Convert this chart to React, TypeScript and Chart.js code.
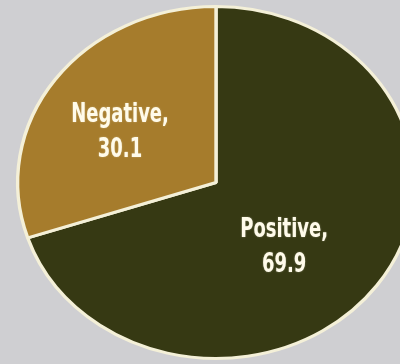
import React, { useEffect, useRef } from "react";
import { Chart, registerables } from "chart.js";

Chart.register(...registerables);

const categories = ["Positive", "Negative"];
const values = [69.9, 30.1];
const sliceColors = ["#363913", "#a67c2c"];

const STRETCH_X = 1.127;
const TEXT_SQUEEZE = 0.74;
// label placement relative to each slice: radial fraction and angular nudge (degrees)
const labelRadial = [0.504, 0.56];
const labelNudge = [11.2, -5.6];

const ellipsePlugin = {
  id: "ellipseAndLabels",
  beforeDatasetsDraw(chart: any) {
    const arc = chart.getDatasetMeta(0).data[0];
    if (!arc) return;
    const ctx = chart.ctx;
    ctx.save();
    ctx.translate(arc.x, 0);
    ctx.scale(STRETCH_X, 1);
    ctx.translate(-arc.x, 0);
  },
  afterDatasetsDraw(chart: any) {
    const ctx = chart.ctx;
    ctx.restore();
    const meta = chart.getDatasetMeta(0);
    const labels = chart.data.labels as string[];
    const data = chart.data.datasets[0].data as number[];
    meta.data.forEach((arc: any, i: number) => {
      const { x, y, startAngle, endAngle, outerRadius } = arc.getProps(
        ["x", "y", "startAngle", "endAngle", "outerRadius"],
        true
      );
      const mid = (startAngle + endAngle) / 2 + (labelNudge[i] * Math.PI) / 180;
      const r = outerRadius * labelRadial[i];
      const px = x + Math.cos(mid) * r * STRETCH_X;
      const py = y + Math.sin(mid) * r;
      ctx.save();
      ctx.translate(px, py);
      ctx.scale(TEXT_SQUEEZE, 1);
      ctx.font = "bold 27px 'DejaVu Sans Condensed', 'DejaVu Sans', sans-serif";
      ctx.fillStyle = "#fffbea";
      ctx.textAlign = "center";
      ctx.textBaseline = "middle";
      ctx.shadowColor = "rgba(255,255,240,0.35)";
      ctx.shadowBlur = 2;
      ctx.fillText(labels[i] + ",", 0, -17.5);
      ctx.fillText(data[i].toFixed(1), 0, 17.5);
      ctx.restore();
    });
  },
};

export default function App() {
  const canvasRef = useRef<HTMLCanvasElement | null>(null);

  useEffect(() => {
    document.body.style.margin = "0";
    document.body.style.background = "#cfcfd2";
    const canvas = canvasRef.current;
    if (!canvas) return;
    const chart = new Chart(canvas, {
      type: "pie",
      data: {
        labels: categories,
        datasets: [
          {
            data: values,
            backgroundColor: sliceColors,
            borderColor: "#f4f0d8",
            borderWidth: 3,
          },
        ],
      },
      options: {
        animation: false,
        responsive: true,
        maintainAspectRatio: false,
        events: [],
        radius: 176,
        layout: { padding: { top: 1, bottom: 0, left: 32, right: 0 } },
        plugins: {
          legend: { display: false },
          tooltip: { enabled: false },
        },
      },
      plugins: [ellipsePlugin],
    });
    return () => chart.destroy();
  }, []);

  return (
    <div style={{ width: 400, height: 364, background: "#cfcfd2", position: "relative", overflow: "hidden" }}>
      <canvas ref={canvasRef} />
    </div>
  );
}
